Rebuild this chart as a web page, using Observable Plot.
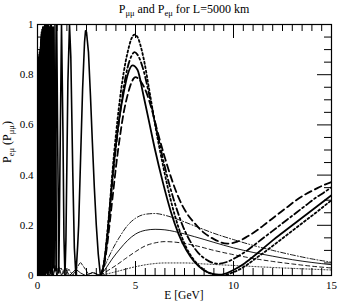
<!DOCTYPE html>
<html><head><meta charset="utf-8">
<script src="https://cdn.jsdelivr.net/npm/d3@7"></script>
<script src="https://cdn.jsdelivr.net/npm/@observablehq/plot@0.6"></script>
<style>
body{margin:0;background:#fff;}
#chart{width:338px;height:303px;}
#chart svg, #chart svg text{font-family:"Liberation Serif","Times New Roman",Times,serif !important;}
</style></head><body><div id="chart"></div>
<script>
// ---------- DATA ([E in GeV, probability]) ----------
// Rapid low-energy oscillations of P_mumu (shared by all four thick curves)
const lowA = [[0.02,0.84],[0.026,0.02],[0.032,0.86],[0.038,0.01],[0.044,0.85],[0.05,0.03],[0.056,0.87],[0.062,0.01],[0.068,0.86],[0.074,0.02],[0.08,0.88],[0.086,0.0],[0.092,0.87],[0.098,0.02],[0.104,0.89],[0.11,0.01],[0.116,0.88],[0.122,0.0],[0.128,0.9],[0.134,0.02],[0.14,0.89],[0.146,0.01],[0.152,0.91],
[0.1607,0.0],[0.1633,0.9],[0.1661,0.02],[0.169,0.92],[0.172,0.01],[0.175,0.91],[0.178,0.0],[0.181,0.93],[0.185,0.02],[0.188,0.92],[0.192,0.01],[0.196,0.94],[0.2,0.0],[0.204,0.93],[0.209,0.02],[0.213,0.95],[0.218,0.01],[0.223,0.94],[0.228,0.0],[0.233,0.96],[0.239,0.02],[0.245,0.95],[0.251,0.01],[0.258,0.97],[0.265,0.0],[0.272,0.96],[0.28,0.02],[0.288,0.98],[0.297,0.01],[0.306,0.97],[0.316,0.0],[0.327,0.99],[0.338,0.02],[0.35,0.98],[0.363,0.01],[0.377,1.0],[0.392,0.0],[0.408,0.99],[0.426,0.02],[0.445,1.0],[0.467,0.01],[0.49,0.99],[0.516,0.0],[0.544,1.0],[0.576,0.02],[0.6125,0.99],[0.653,0.01],[0.70,1.0],[0.754,0.0],[0.817,0.99],[0.891,0.02],[0.98,1.0],[1.089,0.01],[1.15,0.47],[1.225,1.0],[1.3,0.56],[1.35,0.15],[1.4,0.0],[1.45,0.14],[1.5,0.45],[1.55,0.77],[1.633,1.0],[1.7,0.87],[1.8,0.41],[1.88,0.11],[1.96,0.0],
[2.05,0.12],[2.1,0.2],[2.2,0.47],[2.3,0.74],[2.4,0.93],[2.45,0.975],[2.5,0.97],[2.6,0.89],[2.7,0.72],[2.8,0.53],[2.9,0.35],[3.0,0.2],[3.1,0.085],[3.21,0.0]];
const lowB = [[0.1607,0.93],[0.1633,0.03],[0.1661,0.94],[0.169,0.02],[0.172,0.95],[0.175,0.04],[0.178,0.94],[0.181,0.02],[0.185,0.96],[0.188,0.03],[0.192,0.95],[0.196,0.01],[0.2,0.97],[0.204,0.03],[0.209,0.96],[0.213,0.02],[0.218,0.97],[0.223,0.04],[0.228,0.98],[0.233,0.02],[0.239,0.97],[0.245,0.03],[0.251,0.98],[0.258,0.01],[0.265,0.99],[0.272,0.03],[0.28,0.98],[0.288,0.02],[0.297,0.99],[0.306,0.04],[0.316,0.98],[0.327,0.02],[0.338,0.99],[0.35,0.03],[0.363,1.0],[0.377,0.02],[0.392,0.99],[0.408,0.04],[0.426,1.0],[0.445,0.02],[0.467,0.99],[0.49,0.03],[0.516,1.0],[0.544,0.02],[0.576,0.99],[0.6125,0.04],[0.653,1.0],[0.70,0.02],[0.754,0.99],[0.817,0.03],[0.891,1.0],[0.98,0.02]];

// P_mumu (thick curves) above E = 3.2 GeV
const muSolid = [[3.21,0],[3.3,0.015],[3.4,0.05],[3.5,0.11],[3.6,0.19],[3.7,0.28],[3.8,0.37],[3.9,0.45],[4.0,0.52],[4.2,0.64],[4.4,0.73],[4.6,0.80],[4.85,0.837],[5.1,0.82],[5.4,0.72],[5.7,0.61],[6.0,0.50],[6.4,0.37],[6.8,0.255],[7.2,0.165],[7.6,0.10],[8.0,0.055],[8.5,0.02],[9.0,0.005],[9.25,0.003],[9.6,0.008],[10,0.022],[10.5,0.045],[11,0.075],[11.5,0.107],[12,0.14],[12.5,0.17],[13,0.2],[13.5,0.23],[14,0.26],[14.5,0.29],[15,0.32]];
const muDotted = [[3.21,0],[3.3,0.015],[3.4,0.055],[3.5,0.12],[3.6,0.2],[3.7,0.29],[3.8,0.39],[3.9,0.48],[4.0,0.56],[4.2,0.7],[4.4,0.81],[4.6,0.89],[4.8,0.945],[4.95,0.96],[5.1,0.95],[5.4,0.87],[5.7,0.74],[6.0,0.6],[6.4,0.44],[6.8,0.3],[7.2,0.19],[7.6,0.11],[8.0,0.06],[8.5,0.022],[9.0,0.004],[9.3,0.0],[9.7,0.005],[10.2,0.02],[10.7,0.043],[11.2,0.072],[11.7,0.1],[12.2,0.13],[12.7,0.16],[13.2,0.19],[13.7,0.22],[14.2,0.25],[14.6,0.275],[15,0.3]];
const muDashDot = [[3.21,0],[3.3,0.015],[3.4,0.05],[3.5,0.11],[3.6,0.19],[3.7,0.27],[3.8,0.36],[3.9,0.44],[4.0,0.51],[4.2,0.64],[4.4,0.75],[4.6,0.83],[4.8,0.875],[4.95,0.89],[5.1,0.88],[5.4,0.82],[5.7,0.72],[6.0,0.61],[6.3,0.5],[6.6,0.4],[7.0,0.29],[7.4,0.2],[7.8,0.135],[8.2,0.09],[8.6,0.064],[9.2,0.047],[9.7,0.055],[10.2,0.075],[10.7,0.1],[11.2,0.13],[11.7,0.16],[12.2,0.19],[12.7,0.22],[13.2,0.25],[13.7,0.28],[14.2,0.31],[14.6,0.33],[15,0.352]];
const muDashed = [[3.21,0],[3.3,0.015],[3.4,0.045],[3.5,0.09],[3.6,0.15],[3.7,0.22],[3.8,0.29],[3.9,0.36],[4.0,0.43],[4.2,0.55],[4.4,0.65],[4.6,0.72],[4.8,0.77],[5.0,0.79],[5.2,0.78],[5.5,0.74],[5.8,0.67],[6.1,0.58],[6.44,0.485],[6.87,0.378],[7.2,0.31],[7.6,0.25],[8.0,0.21],[8.5,0.17],[9.0,0.145],[9.68,0.127],[10.2,0.135],[10.7,0.155],[11.2,0.18],[11.7,0.21],[12.2,0.24],[12.7,0.27],[13.2,0.3],[13.7,0.325],[14.2,0.345],[14.6,0.36],[15,0.372]];

// P_emu (thin curves)
const thinLowA = [[0.02,0.03],[0.05,0.0],[0.08,0.04],[0.11,0.01],[0.14,0.045],[0.17,0.0],[0.2,0.04],[0.23,0.01],[0.26,0.05],[0.29,0.0],[0.32,0.04],[0.35,0.01],[0.38,0.05],[0.41,0.0],[0.45,0.045],[0.49,0.01],[0.53,0.04],[0.576,0.0],[0.62,0.035],[0.653,0.01],[0.70,0.0],[0.754,0.035],[0.817,0.0],[0.891,0.04],[0.98,0.0],[1.089,0.035],[1.225,0.0],[1.4,0.03],[1.633,0.0],[1.96,0.025],[2.2,0.01],[2.45,0.0],[2.8,0.012],[3.21,0.0]];
const thinLowB = [[0.3,0.02],[0.4,0.0],[0.5,0.03],[0.6,0.0],[0.7,0.02],[0.8,0.0],[0.9,0.03],[1.0,0.0],[1.2,0.03],[1.4,0.0],[1.6,0.025],[1.8,0.0],[2.0,0.03],[2.19,0.053],[2.4,0.03],[2.6,0.005],[2.85,0.012],[3.21,0.0]];
const eDashDot = [[3.21,0],[3.5,0.05],[3.8,0.1],[4.2,0.155],[4.6,0.2],[5.0,0.228],[5.5,0.244],[6.0,0.247],[6.5,0.24],[7.0,0.228],[8.0,0.198],[9.0,0.168],[10,0.143],[11,0.12],[12,0.1],[13,0.082],[14,0.066],[15,0.053]];
const eSolid = [[3.21,0],[3.5,0.03],[3.8,0.065],[4.2,0.105],[4.6,0.14],[5.0,0.165],[5.5,0.18],[6.0,0.184],[6.5,0.182],[7.0,0.175],[8.0,0.155],[9.0,0.132],[10,0.11],[11,0.092],[12,0.077],[13,0.063],[14,0.052],[15,0.043]];
const eDashed = [[3.21,0],[3.6,0.02],[4.0,0.04],[4.5,0.068],[5.0,0.095],[5.5,0.118],[6.0,0.13],[6.5,0.135],[7.0,0.133],[8.0,0.12],[9.0,0.1],[10,0.083],[11,0.068],[12,0.056],[13,0.046],[14,0.037],[15,0.03]];
const eDotted = [[3.21,0],[4.0,0.015],[5.0,0.035],[5.8,0.046],[6.5,0.05],[7.5,0.05],[8.5,0.046],[10,0.04],[12,0.032],[15,0.022]];

// Ticks and labels
const xTicks = [0, 5, 10, 15];
const xTickLabels = ["0", "5", "10", "15"];
const xMinorTicks = [0.5,1,1.5,2,2.5,3,3.5,4,4.5,5.5,6,6.5,7,7.5,8,8.5,9,9.5,10.5,11,11.5,12,12.5,13,13.5,14,14.5];
const yTicks = [0, 0.2, 0.4, 0.6, 0.8, 1];
const yTickLabels = ["0", "0.2", "0.4", "0.6", "0.8", "1"];
const yMinorTicks = [0.05,0.1,0.15,0.25,0.3,0.35,0.45,0.5,0.55,0.65,0.7,0.75,0.85,0.9,0.95];

// ---------- LAYOUT ----------
const W = 338, H = 303, mL = 37, mR = 7, mT = 24, mB = 28;
const plotW = W - mL - mR, plotH = H - mT - mB;
const majorPx = 14, minorPx = 7;
const kx = 15 / plotW, ky = 1 / plotH;
const FONT = '"Liberation Serif","Times New Roman",Times,serif';

const rows = arr => arr.map(([E, P]) => ({E, P}));
const ln = (arr, o) => Plot.line(rows(arr), {x: "E", y: "P", stroke: "black", clip: true, strokeLinejoin: "round", ...o});

const thick = 1.8, thin = 0.9;
const chart = Plot.plot({
  width: W, height: H, marginLeft: mL, marginRight: mR, marginTop: mT, marginBottom: mB,
  x: {domain: [0, 15]},
  y: {domain: [0, 1]},
  style: {fontFamily: FONT, fontSize: "11px", color: "black", background: "white"},
  marks: [
    ln(thinLowA, {strokeWidth: thin}),
    ln(thinLowB, {strokeWidth: thin, strokeDasharray: "3,2"}),
    ln(eDashDot, {strokeWidth: thin, strokeDasharray: "5,2,1,2", curve: "monotone-x"}),
    ln(eSolid, {strokeWidth: thin, curve: "monotone-x"}),
    ln(eDashed, {strokeWidth: thin, strokeDasharray: "4,3", curve: "monotone-x"}),
    ln(eDotted, {strokeWidth: thin, strokeDasharray: "1,2", curve: "monotone-x"}),
    ln(lowB, {strokeWidth: 1.4}),
    ln(lowA, {strokeWidth: 1.6}),
    ln(muDotted, {strokeWidth: thick, strokeDasharray: "2,2.5", curve: "monotone-x"}),
    ln(muDashed, {strokeWidth: thick, strokeDasharray: "7,4", curve: "monotone-x"}),
    ln(muDashDot, {strokeWidth: thick, strokeDasharray: "7,3,2,3", curve: "monotone-x"}),
    ln(muSolid, {strokeWidth: thick, curve: "monotone-x"}),
    Plot.ruleX(xMinorTicks, {x: d => d, y1: () => 0, y2: () => minorPx * ky, stroke: "black", strokeWidth: 1}),
    Plot.ruleX(xMinorTicks, {x: d => d, y1: () => 1, y2: () => 1 - minorPx * ky, stroke: "black", strokeWidth: 1}),
    Plot.ruleX(xTicks, {x: d => d, y1: () => 0, y2: () => majorPx * ky, stroke: "black", strokeWidth: 1}),
    Plot.ruleX(xTicks, {x: d => d, y1: () => 1, y2: () => 1 - majorPx * ky, stroke: "black", strokeWidth: 1}),
    Plot.ruleY(yMinorTicks, {y: d => d, x1: () => 0, x2: () => minorPx * kx, stroke: "black", strokeWidth: 1}),
    Plot.ruleY(yMinorTicks, {y: d => d, x1: () => 15, x2: () => 15 - minorPx * kx, stroke: "black", strokeWidth: 1}),
    Plot.ruleY(yTicks, {y: d => d, x1: () => 0, x2: () => majorPx * kx, stroke: "black", strokeWidth: 1}),
    Plot.ruleY(yTicks, {y: d => d, x1: () => 15, x2: () => 15 - majorPx * kx, stroke: "black", strokeWidth: 1}),
    Plot.frame({stroke: "black", strokeWidth: 1.2}),
    Plot.axisX({ticks: xTicks, tickSize: 0, tickPadding: 6, tickFormat: (d, i) => xTickLabels[i], label: null, fontSize: 11}),
    Plot.axisY({ticks: yTicks, tickSize: 0, tickPadding: 4, tickFormat: (d, i) => yTickLabels[i], label: null, fontSize: 11})
  ]
});
document.getElementById("chart").appendChild(chart);

// ---------- TEXT WITH SUBSCRIPTS ----------
const svg = d3.select(chart);
function addText(parent, parts, attrs) {
  const t = parent.append("text").style("font-family", FONT).attr("fill", "black");
  for (const [k, v] of Object.entries(attrs)) t.attr(k, v);
  let shifted = false;
  for (const [txt, sub] of parts) {
    const s = t.append("tspan").text(txt);
    if (sub && !shifted) { s.attr("dy", 3).attr("font-size", 8.5); shifted = true; }
    else if (!sub && shifted) { s.attr("dy", -3); shifted = false; }
  }
  return t;
}
addText(svg, [["P", false], ["μμ", true], [" and P", false], ["eμ", true], [" for L=5000 km", false]],
  {x: mL + plotW / 2, y: 13, "text-anchor": "middle", "font-size": 12});
addText(svg, [["E [GeV]", false]], {x: mL + plotW / 2, y: 298.5, "text-anchor": "middle", "font-size": 11.5});
addText(svg, [["P", false], ["eμ", true], [" (P", false], ["μμ", true], [")", false]],
  {transform: "translate(10.5,142) rotate(-90)", "text-anchor": "middle", "font-size": 12});
</script></body></html>
